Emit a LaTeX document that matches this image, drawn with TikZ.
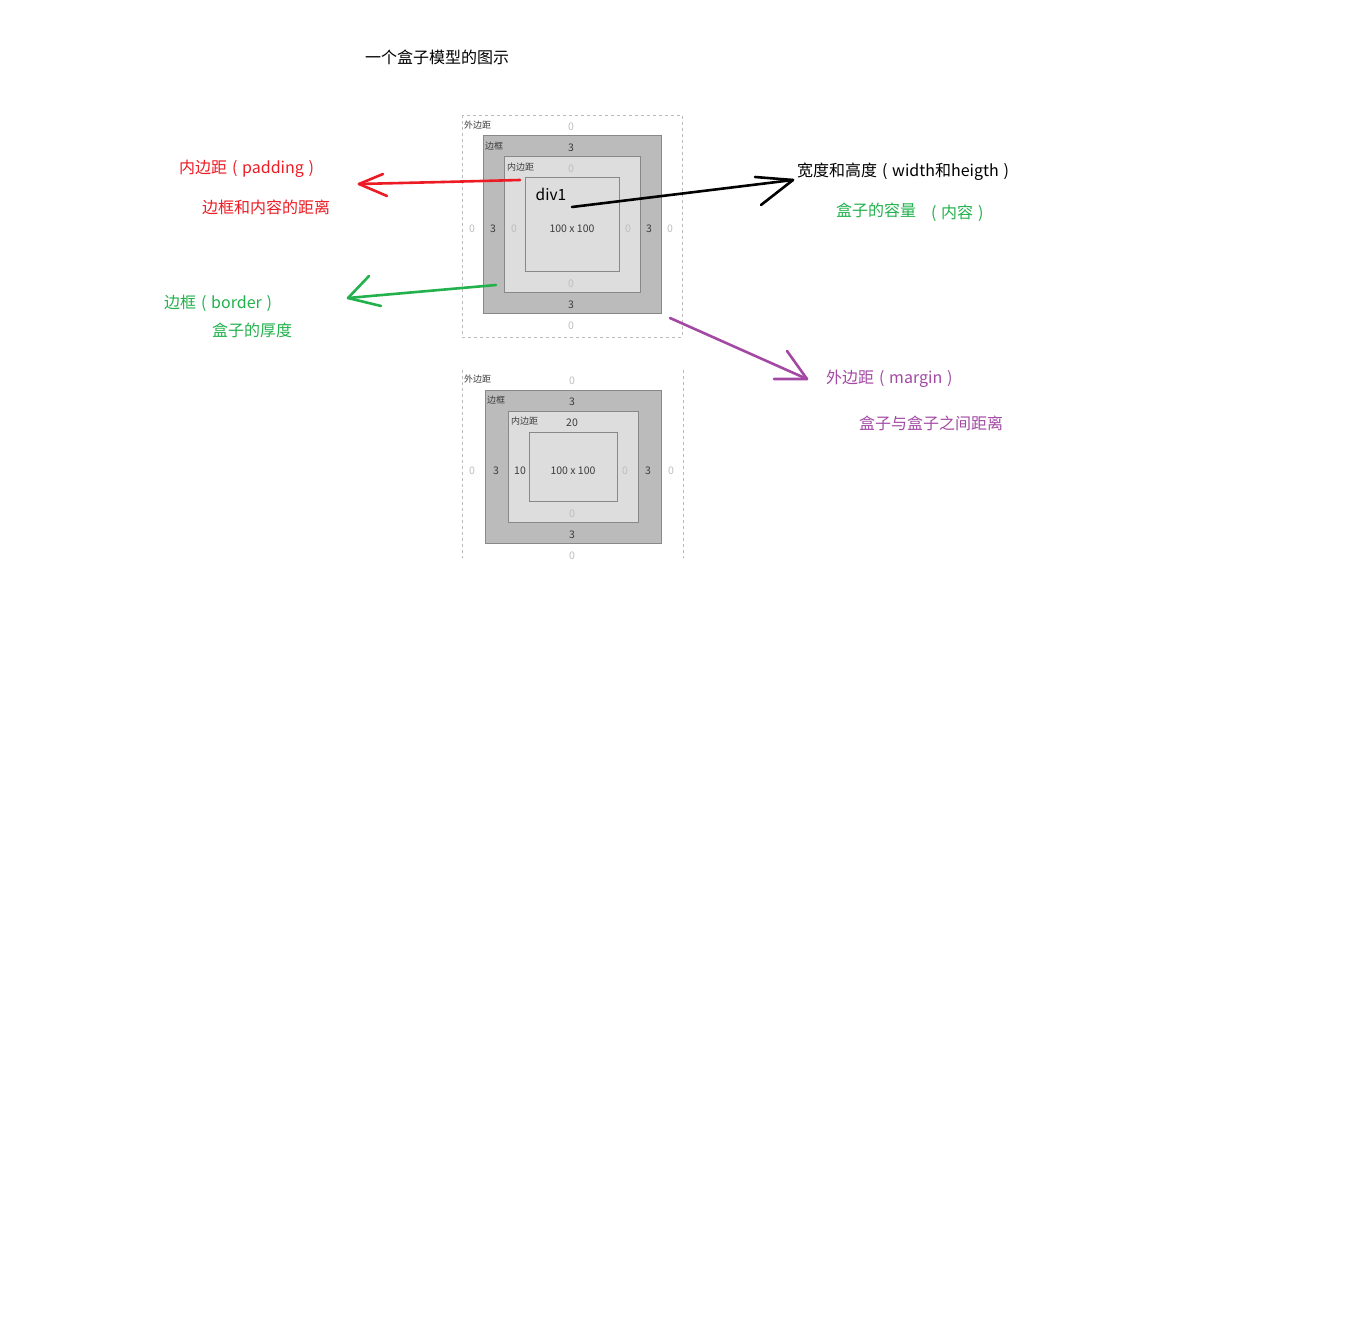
\documentclass[tikz,border=0pt]{standalone}
\usepackage{fontspec}
\setmainfont{Noto Sans CJK SC}
\definecolor{pred}{RGB}{237,28,36}
\definecolor{pgreen}{RGB}{34,177,76}
\definecolor{ppurple}{RGB}{163,73,164}
\definecolor{bordfill}{RGB}{187,187,187}
\definecolor{padfill}{RGB}{221,221,221}
\definecolor{edge}{RGB}{136,136,136}
\definecolor{dashgray}{RGB}{187,187,187}
\definecolor{labgray}{RGB}{60,60,60}
\definecolor{zerogray}{RGB}{190,190,190}
\newcommand\mylp{\hspace{0.3em}(\hspace{0.3em}}
\newcommand\myrp{\hspace{0.3em})}
\begin{document}
\begin{tikzpicture}[x=1pt,y=-1pt,
  big/.style={font=\fontsize{16}{19}\selectfont, inner sep=0pt},
  lbl/.style={font=\fontsize{9}{10}\selectfont, text=labgray, inner sep=0pt, anchor=west},
  num/.style={font=\fontsize{10.5}{12}\selectfont, text=labgray, inner sep=0pt},
  zero/.style={num, text=zerogray},
  marginbox/.style={draw=dashgray, dash pattern=on 3pt off 3pt, line width=0.8pt},
  borderbox/.style={draw=edge, fill=bordfill, line width=1pt},
  padbox/.style={draw=edge, fill=padfill, line width=1pt},
  arr/.style={line width=2.6pt, line cap=round, line join=round}]
\useasboundingbox (0,0) rectangle (1362,1324);
\fill[white] (0,0) rectangle (1362,1324);

% title
\node[big] (title) at (437,57.5) {一个盒子模型的图示};

% ---- box 1 ----
\draw[marginbox] (462,115) rectangle (682,337);
\draw[borderbox] (483,136) rectangle (661,313);
\draw[padbox] (504,157) rectangle (640,292);
\draw[padbox] (525,178) rectangle (619,272);
\node[lbl] (m1l) at (464,125) {外边距};
\node[lbl] (b1l) at (485,146) {边框};
\node[lbl] (p1l) at (507,167) {内边距};
\node[zero] (m1t) at (571,126.5) {0};
\node[num] (b1t) at (571,147.5) {3};
\node[zero] (p1t) at (571,168.5) {0};
\node[font=\fontsize{15.5}{18}\selectfont, inner sep=0pt] (div1) at (551,194) {div1};
\node[num] (c1) at (572,228.5) {100 x 100};
\node[zero] (m1lft) at (472,228.5) {0};
\node[num] (b1lft) at (493,228.5) {3};
\node[zero] (p1lft) at (514,228.5) {0};
\node[zero] (p1rt) at (628,228.5) {0};
\node[num] (b1rt) at (649,228.5) {3};
\node[zero] (m1rt) at (670,228.5) {0};
\node[zero] (p1b) at (571,283.5) {0};
\node[num] (b1b) at (571,304.5) {3};
\node[zero] (m1b) at (571,325.5) {0};

% ---- box 2 ----
\draw[marginbox] (462,370) -- (462,558);
\draw[marginbox] (683,370) -- (683,558);
\draw[borderbox] (485,390) rectangle (661,543);
\draw[padbox] (508,411) rectangle (638,522);
\draw[padbox] (529,432) rectangle (617,501);
\node[lbl] (m2l) at (464,379) {外边距};
\node[lbl] (b2l) at (487,400) {边框};
\node[lbl] (p2l) at (511,421) {内边距};
\node[zero] (m2t) at (572,380.5) {0};
\node[num] (b2t) at (572,401.5) {3};
\node[num] (p2t) at (572,422.5) {20};
\node[num] (c2) at (573,470.5) {100 x 100};
\node[zero] (m2lft) at (472,470.5) {0};
\node[num] (b2lft) at (496,470.5) {3};
\node[num] (p2lft) at (520,470.5) {10};
\node[zero] (p2rt) at (625,470.5) {0};
\node[num] (b2rt) at (648,470.5) {3};
\node[zero] (m2rt) at (671,470.5) {0};
\node[zero] (p2b) at (572,513.5) {0};
\node[num] (b2b) at (572,534.5) {3};
\node[zero] (m2b) at (572,555.5) {0};

% ---- annotations ----
\node[big, text=pred, anchor=west] (padT) at (179,168.5) {内边距\mylp padding\myrp};
\node[big, text=pred] (padS) at (266,207.5) {边框和内容的距离};
\node[big, text=pgreen, anchor=west] (borT) at (164,303.5) {边框\mylp border\myrp};
\node[big, text=pgreen] (borS) at (252,330.5) {盒子的厚度};
\node[big, anchor=west] (whT) at (797,171.5) {宽度和高度\mylp width和heigth\myrp};
\node[big, text=pgreen] (whS) at (876,210.5) {盒子的容量};
\node[big, text=pgreen, anchor=west] (whS2) at (926,213.5) {\mylp 内容\myrp};
\node[big, text=ppurple, anchor=west] (marT) at (826,378.5) {外边距\mylp margin\myrp};
\node[big, text=ppurple] (marS) at (931,423.5) {盒子与盒子之间距离};

% ---- arrows ----
\coordinate (rS) at (520,180);
\coordinate (rT) at (359,184);
\coordinate (rA) at (383,174);
\coordinate (rB) at (387,196);
\draw[arr, pred] (rS) -- (443,182) -- (rT);
\draw[arr, pred] (rA) -- (rT) -- (rB);

\coordinate (kS) at (572,207);
\coordinate (kT) at (793,180);
\coordinate (kA) at (755,177);
\coordinate (kB) at (761,205);
\draw[arr, black] (kS) -- (kT);
\draw[arr, black] (kA) -- (kT) -- (kB);

\coordinate (gS) at (496,285);
\coordinate (gT) at (348,298);
\coordinate (gA) at (369,276);
\coordinate (gB) at (381,306);
\draw[arr, pgreen] (gS) -- (gT);
\draw[arr, pgreen] (gA) -- (gT) -- (gB);

\coordinate (pS) at (670,318);
\coordinate (pT) at (807,379);
\coordinate (pA) at (787,351);
\coordinate (pB) at (774,379);
\draw[arr, ppurple] (pS) -- (pT);
\draw[arr, ppurple] (pA) -- (pT) -- (pB);
\end{tikzpicture}
\end{document}
